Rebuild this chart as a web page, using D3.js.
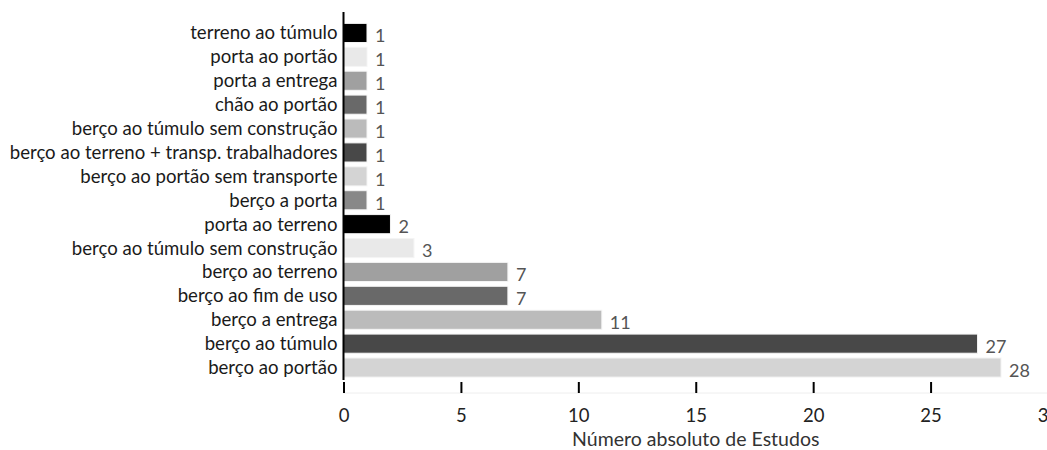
<!DOCTYPE html>
<html>
<head>
<meta charset="utf-8">
<script src="https://cdn.jsdelivr.net/npm/d3@7"></script>
<style>
body { margin: 0; background: #fff; }
text { font-family: Lato, "Open Sans", sans-serif; }
</style>
</head>
<body>
<div id="graph"></div>
<script>
// data, top to bottom as drawn
const categories = [
	"terreno ao túmulo",
	"porta ao portão",
	"porta a entrega",
	"chão ao portão",
	"berço ao túmulo sem construção",
	"berço ao terreno + transp. trabalhadores",
	"berço ao portão sem transporte",
	"berço a porta",
	"porta ao terreno",
	"berço ao túmulo sem construção ",
	"berço ao terreno",
	"berço ao fim de uso",
	"berço a entrega",
	"berço ao túmulo",
	"berço ao portão"
];
const values = [1, 1, 1, 1, 1, 1, 1, 1, 2, 3, 7, 7, 11, 27, 28];
const xTicks = [0, 5, 10, 15, 20, 25, 30];
const greys = ["#000000", "#e9e9e9", "#a0a0a0", "#696969", "#bbbbbb", "#484848", "#d4d4d4", "#888888"];

const width = 1047, height = 450;
const padding = {left: 343.5, right: -1, top: 21, bottom: 70};

const graph = d3.select("div#graph")
	.append("svg")
	.attr("width", width)
	.attr("height", height);

const xScale = d3.scaleLinear()
	.domain([0, 30])
	.range([padding.left, width - padding.right]);

const yScale = d3.scaleBand()
	.domain(d3.range(categories.length))
	.range([padding.top, height - padding.bottom - 0.5])
	.paddingInner(0.2)
	.paddingOuter(0.1);

// bars
graph.selectAll("rect.bar")
	.data(values)
	.enter()
	.append("rect")
	.attr("class", "bar")
	.attr("x", xScale(0))
	.attr("y", (d, i) => yScale(i))
	.attr("width", d => xScale(d) - xScale(0))
	.attr("height", yScale.bandwidth())
	.attr("fill", (d, i) => greys[i % greys.length])
	.attr("stroke", "#f4f4f4")
	.attr("stroke-width", 1);

// category labels
graph.selectAll("text.cat")
	.data(categories)
	.enter()
	.append("text")
	.attr("class", "cat")
	.attr("x", xScale(0) - 6)
	.attr("y", (d, i) => yScale(i) + yScale.bandwidth() / 2)
	.attr("dy", "0.35em")
	.attr("text-anchor", "end")
	.attr("font-size", 18.6)
	.attr("fill", "#1a1a1a")
	.text(d => d.trim());

// value labels
graph.selectAll("text.val")
	.data(values)
	.enter()
	.append("text")
	.attr("class", "val")
	.attr("x", d => xScale(d) + 8)
	.attr("y", (d, i) => yScale(i) + yScale.bandwidth() / 2 + 3)
	.attr("dy", "0.35em")
	.attr("font-size", 18)
	.attr("fill", "#555")
	.text(d => d);

// y axis line
graph.append("line")
	.attr("x1", xScale(0)).attr("x2", xScale(0))
	.attr("y1", 12).attr("y2", 380)
	.attr("stroke", "#000")
	.attr("stroke-width", 2);

// x axis
const xAxis = d3.axisBottom()
	.scale(xScale)
	.tickValues(xTicks)
	.tickSize(11)
	.tickPadding(16);

const gx = graph.append("g")
	.attr("class", "x axis")
	.attr("transform", `translate(0, 382)`)
	.call(xAxis);

gx.select(".domain")
	.attr("stroke", "#eeeeee")
	.attr("d", `M${xScale(0)},11H${width}`);
gx.selectAll(".tick line")
	.attr("stroke", "#000")
	.attr("stroke-width", 2);
gx.selectAll(".tick text")
	.attr("font-size", 18.5)
	.attr("font-family", "Lato, sans-serif")
	.attr("fill", "#222");

graph.append("text")
	.attr("x", xScale(15))
	.attr("y", 446)
	.attr("text-anchor", "middle")
	.attr("font-size", 19.5)
	.attr("fill", "#333")
	.text("Número absoluto de Estudos");
</script>
</body>
</html>
